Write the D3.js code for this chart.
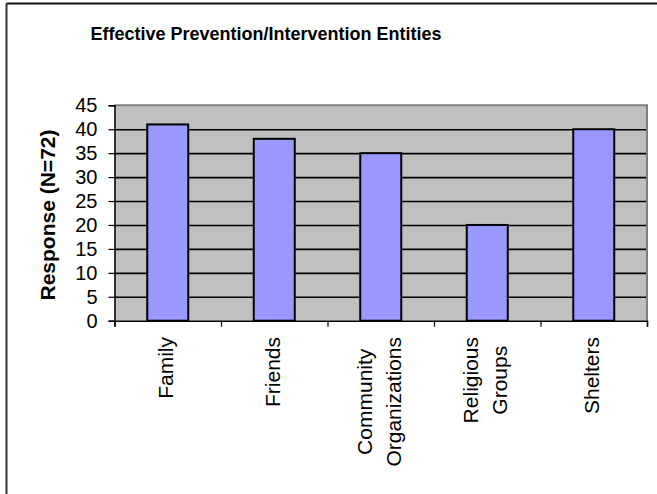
<!DOCTYPE html>
<html>
<head>
<meta charset="utf-8">
<script src="https://cdn.jsdelivr.net/npm/d3@7"></script>
<style>
  html, body { margin: 0; padding: 0; background: #fff; }
  svg { display: block; font-family: "Liberation Sans", Arial, sans-serif; }
</style>
</head>
<body>
<svg id="chart" width="657" height="494"></svg>
<script>
// Survey responses by entity
const categories = ["Family", "Friends", "Community Organizations", "Religious Groups", "Shelters"];
const labelLines = [["Family"], ["Friends"], ["Community", "Organizations"], ["Religious", "Groups"], ["Shelters"]];
const responses = [41, 38, 35, 20, 40];
const yTicks = [0, 5, 10, 15, 20, 25, 30, 35, 40, 45];
const titleText = "Effective Prevention/Intervention Entities";
const yTitleText = "Response (N=72)";

const svg = d3.select("#chart");

// Outer chart frame
svg.append("line").attr("x1", 6.5).attr("x2", 6.5).attr("y1", 3.5).attr("y2", 494)
  .attr("stroke", "#333").attr("stroke-width", 2);
svg.append("line").attr("x1", 6.5).attr("x2", 657).attr("y1", 3.5).attr("y2", 3.5)
  .attr("stroke", "#111").attr("stroke-width", 2);

const plot = { left: 114.5, right: 647, top: 105.3, bottom: 320.7 };
const W = plot.right - plot.left;

const x = d3.scaleBand().domain(categories).range([plot.left, plot.right])
  .paddingInner(0.615).paddingOuter(0.3075);
const xEdges = d3.scaleLinear().domain([0, categories.length]).range([plot.left, plot.right]);
const y = d3.scaleLinear().domain([0, 45]).range([plot.bottom, plot.top]);

// Plot background
svg.append("rect").attr("x", plot.left).attr("y", plot.top)
  .attr("width", W).attr("height", plot.bottom - plot.top)
  .attr("fill", "#c0c0c0");

// Gridlines
const grid = svg.append("g").attr("transform", `translate(${plot.left},0)`)
  .call(d3.axisLeft(y).tickValues(yTicks.filter(v => v > 0 && v < 45)).tickSize(-W).tickFormat(""));
grid.select(".domain").remove();
grid.selectAll("line").attr("stroke", "#000").attr("stroke-width", 1.6);

// Plot border (top and right)
svg.append("path")
  .attr("d", `M${plot.left},${plot.top}H${plot.right}V${plot.bottom}`)
  .attr("fill", "none").attr("stroke", "#808080").attr("stroke-width", 2);

// Bars
svg.append("g").selectAll("rect").data(responses).join("rect")
  .attr("x", (d, i) => x(categories[i]))
  .attr("y", d => y(d))
  .attr("width", x.bandwidth())
  .attr("height", d => y(0) - y(d))
  .attr("fill", "#9999ff")
  .attr("stroke", "#000")
  .attr("stroke-width", 2);

// Y axis
const yAxis = svg.append("g").attr("transform", `translate(${plot.left},0)`)
  .call(d3.axisLeft(y).tickValues(yTicks).tickSize(6).tickPadding(11));
yAxis.select(".domain").attr("stroke", "#000").attr("stroke-width", 1.5);
yAxis.selectAll(".tick line").attr("stroke", "#000").attr("stroke-width", 1.2);
yAxis.selectAll("text").attr("font-size", 20).attr("fill", "#000")
  .attr("font-family", "'Liberation Sans', Arial, sans-serif");

// X axis with ticks between categories
const xAxis = svg.append("g").attr("transform", `translate(0,${plot.bottom})`)
  .call(d3.axisBottom(xEdges).tickValues(d3.range(categories.length + 1)).tickSize(6).tickFormat(""));
xAxis.select(".domain").attr("stroke", "#000").attr("stroke-width", 1.5);
xAxis.selectAll(".tick line").attr("stroke", "#000").attr("stroke-width", 1.2);

// Rotated category labels, end-aligned below the axis, lines centered in block
const labelTop = 337;
const lineGap = 29;
const lg = svg.append("g").attr("font-size", 21).attr("fill", "#000");
labelLines.forEach((lines, i) => {
  const cx = x(categories[i]) + x.bandwidth() / 2;
  const texts = lines.map(s => lg.append("text").text(s));
  const maxLen = d3.max(texts, t => t.node().getComputedTextLength());
  const n = lines.length;
  texts.forEach((t, j) => {
    const lx = cx - 2 + (j - (n - 1) / 2) * lineGap;
    t.attr("text-anchor", "middle").attr("dy", "0.35em")
      .attr("transform", `translate(${lx},${labelTop + maxLen / 2}) rotate(-90)`);
  });
});

// Y axis title
svg.append("text")
  .attr("transform", "translate(48,215) rotate(-90)")
  .attr("text-anchor", "middle").attr("dy", "0.35em")
  .attr("font-size", 21).attr("font-weight", "bold")
  .text(yTitleText);

// Chart title
svg.append("text")
  .attr("x", 266).attr("y", 40)
  .attr("text-anchor", "middle")
  .attr("font-size", 18).attr("font-weight", "bold")
  .text(titleText);
</script>
</body>
</html>
